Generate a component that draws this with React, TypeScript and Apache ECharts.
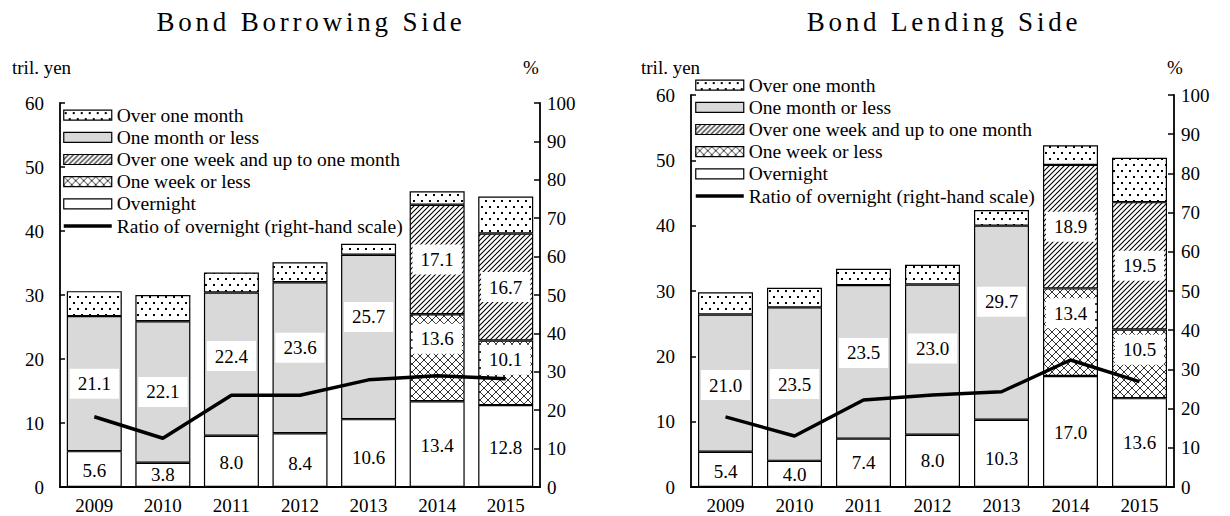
import React, { useEffect, useRef } from 'react';
import * as echarts from 'echarts';

const FONT = "'Liberation Serif', 'Times New Roman', serif";

const years = ['2009', '2010', '2011', '2012', '2013', '2014', '2015'];
const yLeftTicks = { min: 0, max: 60, interval: 10 };
const yRightTicks = { min: 0, max: 100, interval: 10 };

const titles = ['Bond Borrowing Side', 'Bond Lending Side'];
const legendNames = [
  'Over one month',
  'One month or less',
  'Over one week and up to one month',
  'One week or less',
  'Overnight',
  'Ratio of overnight (right-hand scale)',
];

// Bond Borrowing Side (tril. yen)
const borrowOvernight = [5.6, 3.8, 8.0, 8.4, 10.6, 13.4, 12.8];
const borrowWeekOrLess = [null, null, null, null, null, 13.6, 10.1];
const borrowWeekToMonth = [null, null, null, null, null, 17.1, 16.7];
const borrowMonthOrLess = [21.1, 22.1, 22.4, 23.6, 25.7, null, null];
const borrowOverMonth = [3.9, 4.1, 3.1, 3.1, 1.7, 2.1, 5.8];
const borrowRatio = [18.3, 12.7, 23.9, 23.9, 27.9, 29.0, 28.2];

// Bond Lending Side (tril. yen)
const lendOvernight = [5.4, 4.0, 7.4, 8.0, 10.3, 17.0, 13.6];
const lendWeekOrLess = [null, null, null, null, null, 13.4, 10.5];
const lendWeekToMonth = [null, null, null, null, null, 18.9, 19.5];
const lendMonthOrLess = [21.0, 23.5, 23.5, 23.0, 29.7, null, null];
const lendOverMonth = [3.4, 3.0, 2.5, 3.0, 2.4, 3.0, 6.8];
const lendRatio = [17.9, 13.0, 22.2, 23.5, 24.3, 32.4, 26.9];

// label vertical nudges (px), styling only
const borrowOvernightShift = [1, 0, 1, 3, 4, 1, 1];
const borrowWeekShift = [0, 0, 0, 0, 0, -19, -13];
const borrowMonthShift = [0, 0, -8, -10, -20, 0, 0];
const lendOvernightShift = [2, 1, 0, 0, 5, 1, 0];
const lendWeekShift = [0, 0, 0, 0, 0, -19, -14];
const lendMonthShift = [2, 0, -9, -11, -21, 0, 0];

function makePattern(w: number, h: number, draw: (ctx: CanvasRenderingContext2D) => void) {
  const c = document.createElement('canvas');
  c.width = w;
  c.height = h;
  const ctx = c.getContext('2d') as CanvasRenderingContext2D;
  ctx.fillStyle = '#fff';
  ctx.fillRect(0, 0, w, h);
  draw(ctx);
  return { image: c, repeat: 'repeat', imageWidth: w, imageHeight: h };
}

export default function App() {
  const ref = useRef<HTMLDivElement>(null);

  useEffect(() => {
    if (!ref.current) return;
    const chart = echarts.init(ref.current, null, { renderer: 'svg' });

    const dots = makePattern(8, 12, (ctx) => {
      ctx.fillStyle = '#000';
      ctx.fillRect(1, 2, 2, 2);
      ctx.fillRect(5, 8, 2, 2);
    });
    const hatch = makePattern(5, 5, (ctx) => {
      ctx.strokeStyle = '#000';
      ctx.lineWidth = 1.1;
      ctx.beginPath();
      ctx.moveTo(-1, 6);
      ctx.lineTo(6, -1);
      ctx.moveTo(-1, 1);
      ctx.lineTo(1, -1);
      ctx.moveTo(4, 6);
      ctx.lineTo(6, 4);
      ctx.stroke();
    });
    const cross = makePattern(8, 8, (ctx) => {
      ctx.strokeStyle = '#333';
      ctx.lineWidth = 1;
      ctx.beginPath();
      ctx.moveTo(0, 0);
      ctx.lineTo(8, 8);
      ctx.moveTo(8, 0);
      ctx.lineTo(0, 8);
      ctx.stroke();
    });

    const labelBase = {
      show: true,
      position: 'inside',
      formatter: (p: any) => Number(p.value).toFixed(1),
      backgroundColor: '#fff',
      padding: [5, 8],
      color: '#000',
      fontSize: 19,
      lineHeight: 20,
      fontFamily: FONT,
    };

    const mkData = (vals: (number | null)[], shifts: number[] | null) =>
      vals.map((v, i) =>
        v == null ? '-' : { value: v, label: { offset: [0, shifts ? shifts[i] : 0] } }
      );

    const bar = (g: number, name: string, vals: (number | null)[], color: any, shifts: number[] | null, label: any) => ({
      type: 'bar',
      name,
      xAxisIndex: g,
      yAxisIndex: 2 * g,
      stack: 'stack' + g,
      barWidth: 55,
      data: mkData(vals, shifts),
      itemStyle: { color, borderColor: '#000', borderWidth: 1.2 },
      label,
      emphasis: { disabled: true },
    });

    const groups = [
      {
        overnight: borrowOvernight, week: borrowWeekOrLess, weekMonth: borrowWeekToMonth,
        month: borrowMonthOrLess, over: borrowOverMonth, ratio: borrowRatio,
        oShift: borrowOvernightShift, wShift: borrowWeekShift, mShift: borrowMonthShift,
      },
      {
        overnight: lendOvernight, week: lendWeekOrLess, weekMonth: lendWeekToMonth,
        month: lendMonthOrLess, over: lendOverMonth, ratio: lendRatio,
        oShift: lendOvernightShift, wShift: lendWeekShift, mShift: lendMonthShift,
      },
    ];

    const series: any[] = [];
    groups.forEach((d, g) => {
      series.push(bar(g, legendNames[4], d.overnight, '#fff', d.oShift, { ...labelBase, backgroundColor: 'transparent' }));
      series.push(bar(g, legendNames[3], d.week, cross, d.wShift, labelBase));
      series.push(bar(g, legendNames[2], d.weekMonth, hatch, null, labelBase));
      series.push(bar(g, legendNames[1], d.month, '#d9d9d9', d.mShift, labelBase));
      series.push(bar(g, legendNames[0], d.over, dots, null, { show: false }));
      series.push({
        type: 'line',
        name: legendNames[5],
        xAxisIndex: g,
        yAxisIndex: 2 * g + 1,
        data: d.ratio,
        symbol: 'none',
        lineStyle: { color: '#000', width: 3.5 },
        itemStyle: { color: '#000' },
        emphasis: { disabled: true },
        z: 10,
      });
    });

    const legendData = legendNames.map((n, i) =>
      i < 5
        ? { name: n, icon: 'rect', itemStyle: { borderColor: '#000', borderWidth: 1.2 } }
        : { name: n, lineStyle: { width: 3.5, color: '#000' }, itemStyle: { opacity: 0 } }
    );

    const legendBase = {
      orient: 'vertical',
      itemWidth: 48,
      itemHeight: 10,
      itemGap: 0,
      padding: 0,
      selectedMode: false,
      textStyle: { fontSize: 19.5, fontFamily: FONT, color: '#000', lineHeight: 22.2 },
      data: legendData,
    };

    const axisLineStyle = { color: '#000', width: 1.8 };
    const tickStyle = { color: '#000', width: 1.5 };
    const labelStyle = { color: '#000', fontSize: 19, fontFamily: FONT };

    const grids = [
      { left: 60, right: 690, top: 103, bottom: 29 },
      { left: 691, right: 56, top: 95, bottom: 29 },
    ];

    const xAxes = grids.map((_, g) => ({
      type: 'category',
      gridIndex: g,
      data: years,
      axisLine: { lineStyle: axisLineStyle },
      axisTick: { inside: true, length: 6, lineStyle: tickStyle },
      axisLabel: { ...labelStyle, margin: 9 },
    }));

    const yAxes: any[] = [];
    grids.forEach((_, g) => {
      yAxes.push({
        type: 'value',
        gridIndex: g,
        ...yLeftTicks,
        axisLine: { show: true, lineStyle: axisLineStyle },
        axisTick: { show: true, inside: true, length: 5, lineStyle: tickStyle },
        splitLine: { show: false },
        axisLabel: { ...labelStyle, margin: 16 },
      });
      yAxes.push({
        type: 'value',
        gridIndex: g,
        position: 'right',
        ...yRightTicks,
        axisLine: { show: true, lineStyle: axisLineStyle },
        axisTick: { show: true, inside: true, length: 6, lineStyle: tickStyle },
        splitLine: { show: false },
        axisLabel: { ...labelStyle, margin: 7 },
      });
    });

    const txt = (text: string, x: number, y: number, size: number, align: string) => ({
      type: 'text',
      x,
      y,
      style: {
        text,
        fontSize: size,
        fontFamily: FONT,
        fill: '#000',
        textAlign: align,
        textVerticalAlign: 'middle',
      },
    });

    chart.setOption({
      animation: false,
      backgroundColor: '#fff',
      grid: grids,
      xAxis: xAxes,
      yAxis: yAxes,
      legend: [
        { ...legendBase, left: 62, top: 104 },
        { ...legendBase, left: 694, top: 74 },
      ],
      graphic: [
        txt(titles[0], 311, 22, 27, 'center'),
        txt(titles[1], 944, 22, 27, 'center'),
        txt('tril. yen', 12, 67, 19, 'left'),
        txt('%', 531, 67, 19, 'center'),
        txt('tril. yen', 641, 67, 19, 'left'),
        txt('%', 1175, 67, 19, 'center'),
      ],
      series,
    });

    const texts = ref.current.querySelectorAll('text');
    texts.forEach((t) => {
      if (titles.includes((t.textContent || '').trim())) {
        t.setAttribute('letter-spacing', '3.8');
      }
    });

    return () => chart.dispose();
  }, []);

  return (
    <div
      ref={ref}
      style={{ position: 'fixed', left: 0, top: 0, width: 1230, height: 516, background: '#fff' }}
    />
  );
}
